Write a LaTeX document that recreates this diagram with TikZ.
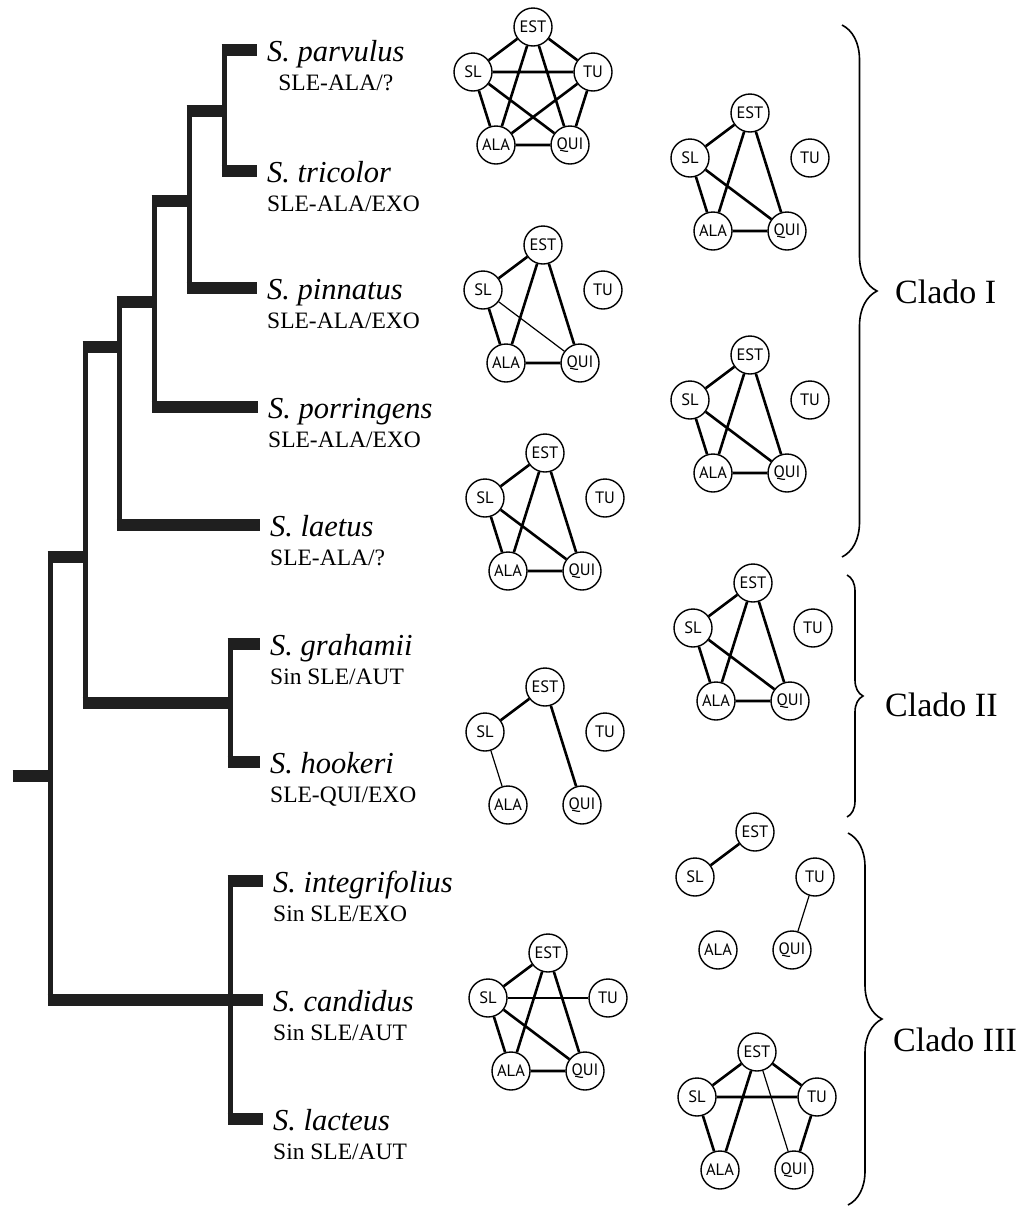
\documentclass[tikz,border=0pt]{standalone}
\usepackage{fontspec}
\setmainfont{Liberation Serif}
\newfontfamily\netfont{PT Sans}
\usetikzlibrary{positioning,decorations.pathreplacing}

\tikzset{
  hbar/.style={line width=12pt, black!88, shorten <=-2.5pt},
  vbar/.style={line width=5pt, black!88},
  sp/.style={font=\fontsize{30.5}{36}\selectfont\itshape, inner sep=0pt, text height=28pt, text depth=6pt},
  sub/.style={font=\fontsize{23.5}{27}\selectfont, inner sep=0pt, text height=17pt, text depth=5pt},
  sn/.style={circle, draw, line width=1.4pt, minimum size=38pt, inner sep=0pt, font=\netfont\fontsize{16.5}{19}\selectfont},
  bold/.style={line width=2.6pt},
  fine/.style={line width=1.2pt},
  clado/.style={font=\fontsize{34}{40}\selectfont, anchor=west, inner sep=0pt},
  brc/.style={decorate, line width=1.6pt},
}

% one network: prefix, x and y of EST
\newcommand{\net}[3]{%
  \node[sn] (#1-est) at (#2,#3) {EST};
  \node[sn] (#1-sl) at (#2-60,#3+45) {SL};
  \node[sn] (#1-tu) at (#2+60,#3+45) {TU};
  \node[sn] (#1-ala) at (#2-37,#3+118) {ALA};
  \node[sn] (#1-qui) at (#2+37,#3+118) {QUI};
}

\begin{document}
\begin{tikzpicture}[x=1pt, y=-1pt]
        \useasboundingbox (0,0) rectangle (1023,1208);

        % tips
        \coordinate (parv) at (257,50);
        \coordinate (tric) at (257,171);
        \coordinate (pinn) at (257,288);
        \coordinate (porr) at (258,407);
        \coordinate (laet) at (260,525);
        \coordinate (grah) at (260,644);
        \coordinate (hook) at (260,762);
        \coordinate (integ) at (263,881);
        \coordinate (cand) at (263,1000);
        \coordinate (lact) at (263,1119);

        % internal nodes
        \coordinate (nE) at (224,111);
        \coordinate (nD) at (189,201);
        \coordinate (nC) at (154,302);
        \coordinate (nB) at (119,347);
        \coordinate (nA) at (85,557);
        \coordinate (nF) at (230,703);
        \coordinate (nR) at (50,776);
        \coordinate (nG) at (230,1000);
        \coordinate (stub) at (15,776);

        % tree
        \draw[vbar] (nE |- parv) -- (nE |- tric);
        \draw[vbar] (nD |- nE) -- (nD |- pinn);
        \draw[vbar] (nC |- nD) -- (nC |- porr);
        \draw[vbar] (nB |- nC) -- (nB |- laet);
        \draw[vbar] (nA |- nB) -- (nA |- nF);
        \draw[vbar] (nF |- grah) -- (nF |- hook);
        \draw[vbar] (nR |- nA) -- (nR |- cand);
        \draw[vbar] (nG |- integ) -- (nG |- lact);

        \draw[hbar] (nE |- parv) -- (parv);
        \draw[hbar] (nE |- tric) -- (tric);
        \draw[hbar] (nD |- nE) -- (nE);
        \draw[hbar] (nD |- pinn) -- (pinn);
        \draw[hbar] (nC |- nD) -- (nD);
        \draw[hbar] (nC |- porr) -- (porr);
        \draw[hbar] (nB |- nC) -- (nC);
        \draw[hbar] (nB |- laet) -- (laet);
        \draw[hbar] (nA |- nB) -- (nB);
        \draw[hbar] (nA |- nF) -- (nF);
        \draw[hbar] (nF |- grah) -- (grah);
        \draw[hbar] (nF |- hook) -- (hook);
        \draw[hbar] (nR |- nA) -- (nA);
        \draw[hbar] (nR |- cand) -- (cand);
        \draw[hbar] (nG |- integ) -- (integ);
        \draw[hbar] (nG |- lact) -- (lact);
        \draw[hbar] (stub) -- (nR);

        % species
        \node[sp, right=10pt of parv] (parvN) {S. parvulus};
        \node[sub, below=6pt of parvN.south] (parvL) {SLE-ALA/?};
        \node[sp, right=10pt of tric] (tricN) {S. tricolor};
        \node[sub, below right=6pt and 0pt of tricN.south west] (tricL) {SLE-ALA/EXO};
        \node[sp, right=10pt of pinn] (pinnN) {S. pinnatus};
        \node[sub, below right=6pt and 0pt of pinnN.south west] (pinnL) {SLE-ALA/EXO};
        \node[sp, right=10pt of porr] (porrN) {S. porringens};
        \node[sub, below right=6pt and 0pt of porrN.south west] (porrL) {SLE-ALA/EXO};
        \node[sp, right=10pt of laet] (laetN) {S. laetus};
        \node[sub, below right=6pt and 0pt of laetN.south west] (laetL) {SLE-ALA/?};
        \node[sp, right=10pt of grah] (grahN) {S. grahamii};
        \node[sub, below right=6pt and 0pt of grahN.south west] (grahL) {Sin SLE/AUT};
        \node[sp, right=10pt of hook] (hookN) {S. hookeri};
        \node[sub, below right=6pt and 0pt of hookN.south west] (hookL) {SLE-QUI/EXO};
        \node[sp, right=10pt of integ] (integN) {S. integrifolius};
        \node[sub, below right=6pt and 0pt of integN.south west] (integL) {Sin SLE/EXO};
        \node[sp, right=10pt of cand] (candN) {S. candidus};
        \node[sub, below right=6pt and 0pt of candN.south west] (candL) {Sin SLE/AUT};
        \node[sp, right=10pt of lact] (lactN) {S. lacteus};
        \node[sub, below right=6pt and 0pt of lactN.south west] (lactL) {Sin SLE/AUT};

        % networks
        \net{parvG}{533}{27}
        \net{tricG}{750}{113}
        \net{pinnG}{543}{245}
        \net{porrG}{750}{355}
        \net{laetG}{545}{453}
        \net{grahG}{753}{583}
        \net{hookG}{545}{687}
        \net{integG}{755}{832}
        \net{candG}{548}{953}
        \net{lactG}{757}{1052}

        \draw[bold] (parvG-est) -- (parvG-sl) (parvG-est) -- (parvG-tu) (parvG-est) -- (parvG-ala)
                    (parvG-est) -- (parvG-qui) (parvG-sl) -- (parvG-tu) (parvG-sl) -- (parvG-ala)
                    (parvG-sl) -- (parvG-qui) (parvG-tu) -- (parvG-ala) (parvG-tu) -- (parvG-qui)
                    (parvG-ala) -- (parvG-qui);

        \draw[bold] (tricG-est) -- (tricG-sl) (tricG-est) -- (tricG-ala) (tricG-est) -- (tricG-qui)
                    (tricG-sl) -- (tricG-ala) (tricG-sl) -- (tricG-qui) (tricG-ala) -- (tricG-qui);

        \draw[bold] (pinnG-est) -- (pinnG-sl) (pinnG-est) -- (pinnG-ala) (pinnG-est) -- (pinnG-qui)
                    (pinnG-sl) -- (pinnG-ala) (pinnG-ala) -- (pinnG-qui);
        \draw[fine] (pinnG-sl) -- (pinnG-qui);

        \draw[bold] (porrG-est) -- (porrG-sl) (porrG-est) -- (porrG-ala) (porrG-est) -- (porrG-qui)
                    (porrG-sl) -- (porrG-ala) (porrG-sl) -- (porrG-qui) (porrG-ala) -- (porrG-qui);

        \draw[bold] (laetG-est) -- (laetG-sl) (laetG-est) -- (laetG-ala) (laetG-est) -- (laetG-qui)
                    (laetG-sl) -- (laetG-ala) (laetG-sl) -- (laetG-qui) (laetG-ala) -- (laetG-qui);

        \draw[bold] (grahG-est) -- (grahG-sl) (grahG-est) -- (grahG-ala) (grahG-est) -- (grahG-qui)
                    (grahG-sl) -- (grahG-ala) (grahG-sl) -- (grahG-qui) (grahG-ala) -- (grahG-qui);

        \draw[bold] (hookG-est) -- (hookG-sl) (hookG-est) -- (hookG-qui);
        \draw[fine] (hookG-sl) -- (hookG-ala);

        \draw[bold] (integG-est) -- (integG-sl);
        \draw[fine] (integG-tu) -- (integG-qui);

        \draw[bold] (candG-est) -- (candG-sl) (candG-est) -- (candG-ala) (candG-est) -- (candG-qui)
                    (candG-sl) -- (candG-ala) (candG-sl) -- (candG-qui) (candG-ala) -- (candG-qui);
        \draw[fine] (candG-sl) -- (candG-tu);

        \draw[bold] (lactG-est) -- (lactG-sl) (lactG-est) -- (lactG-tu) (lactG-est) -- (lactG-ala)
                    (lactG-sl) -- (lactG-tu) (lactG-sl) -- (lactG-ala) (lactG-tu) -- (lactG-qui);
        \draw[fine] (lactG-est) -- (lactG-qui);

        % clades
        \draw[brc, decoration={brace, amplitude=35pt}] (842,25) -- (842,557);
        \draw[brc, decoration={brace, amplitude=16pt}] (847,575) -- (847,817);
        \draw[brc, decoration={brace, amplitude=34pt}] (848,833) -- (848,1205);
        \node[clado] (cladoI) at (895,292) {Clado I};
        \node[clado] (cladoII) at (885,705) {Clado II};
        \node[clado] (cladoIII) at (893,1040) {Clado III};
    \end{tikzpicture}
\end{document}
